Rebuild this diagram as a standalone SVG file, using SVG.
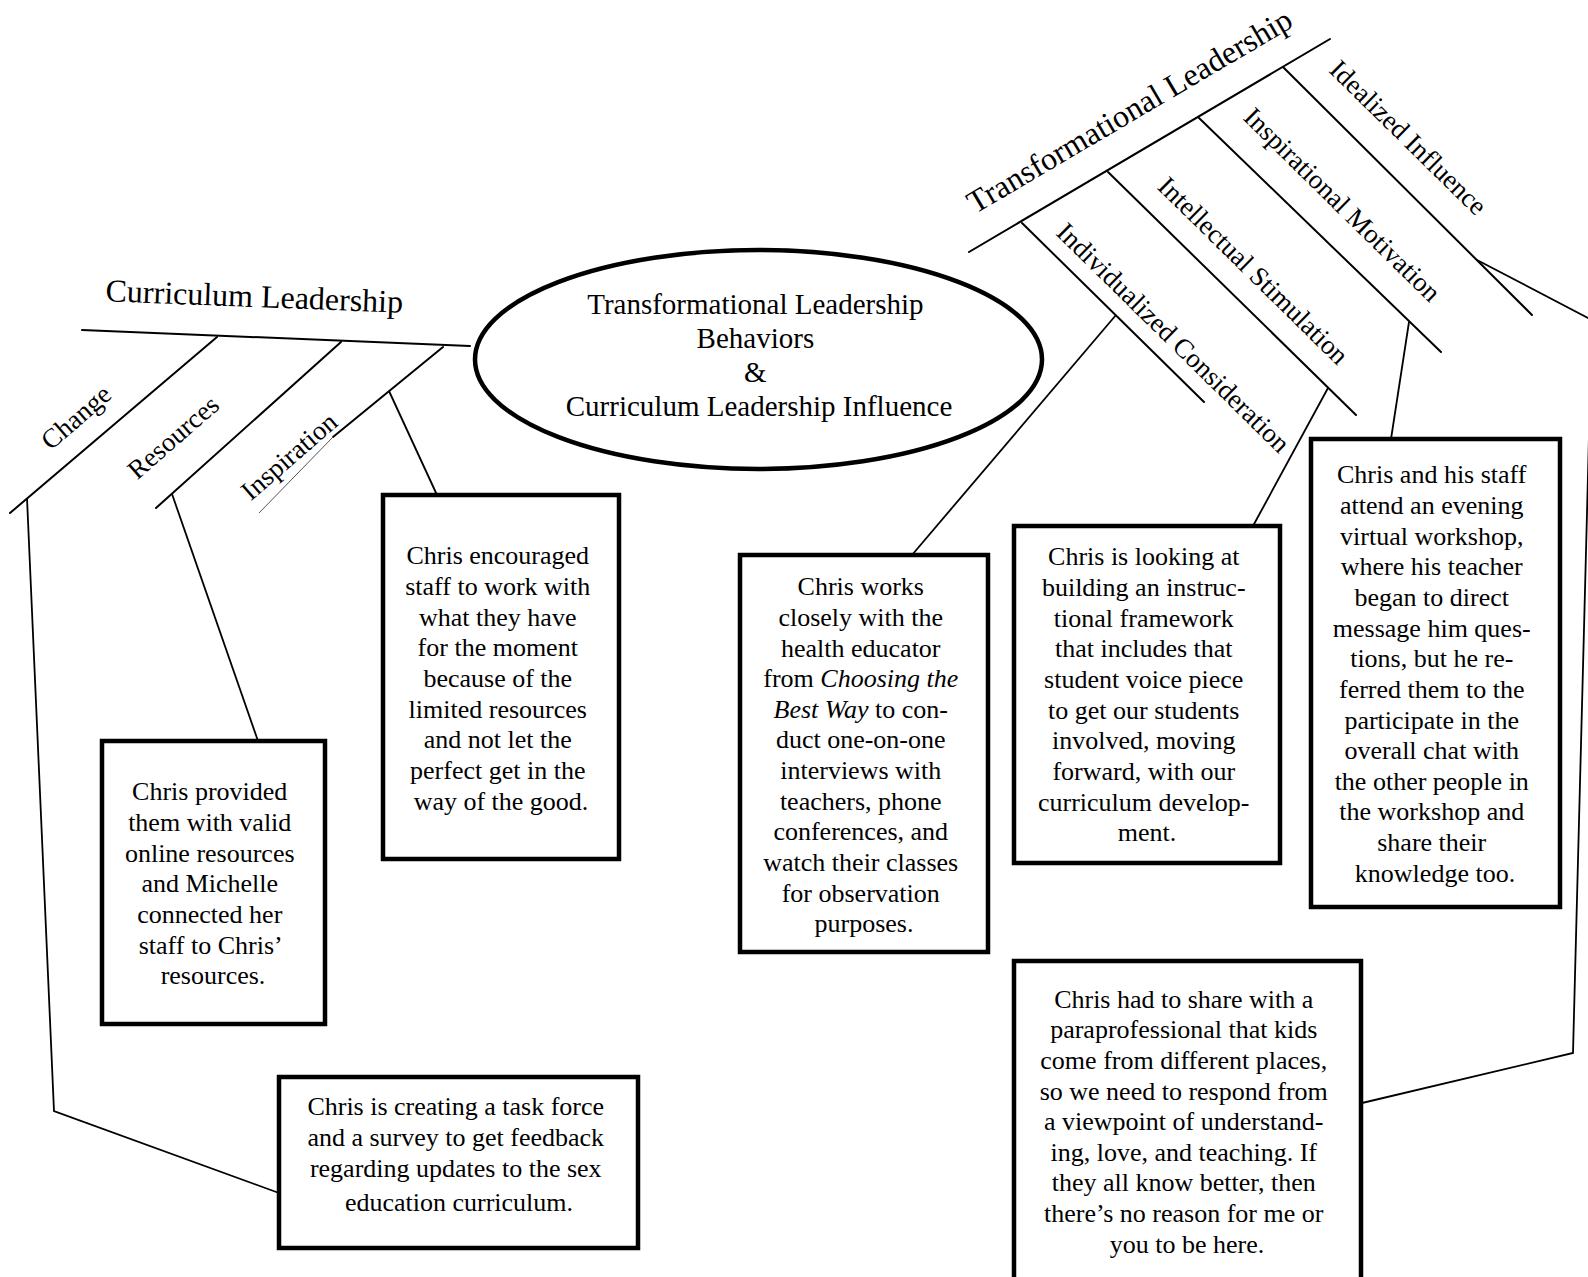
<svg xmlns="http://www.w3.org/2000/svg" width="1588" height="1277" viewBox="0 0 1588 1277">
<style>
text{font-family:"Liberation Serif","Times New Roman",serif;fill:#000}
.box{fill:#fff;stroke:#000;stroke-width:4.5}
.bt{font-size:26px;text-anchor:middle}
.lbl{font-size:27px;text-anchor:middle}
.br{stroke:#000;stroke-width:2;fill:none;stroke-linecap:round}
.cn{stroke:#000;stroke-width:1.8;fill:none}
</style>
<rect width="1588" height="1277" fill="#fff"/>
<g id="connectors">
  <!-- Curriculum leadership spine and branches -->
  <line class="br" x1="82" y1="330" x2="470" y2="346"/>
  <line class="br" x1="217" y1="337" x2="10" y2="513"/>
  <line class="br" x1="341" y1="342" x2="156" y2="508"/>
  <line class="br" x1="443" y1="347" x2="333" y2="437"/>
  <line x1="333" y1="437" x2="259" y2="513" stroke="#555" stroke-width="1"/>
  <!-- Transformational leadership spine and branches -->
  <line class="br" x1="969" y1="252" x2="1330" y2="39"/>
  <line class="br" x1="1022" y1="223" x2="1204" y2="402"/>
  <line class="br" x1="1108" y1="172" x2="1356" y2="415"/>
  <line class="br" x1="1199" y1="118" x2="1441" y2="352"/>
  <line class="br" x1="1283" y1="67" x2="1532" y2="315"/>
  <!-- leaders to boxes -->
  <polyline class="cn" points="389,391 437,495"/>
  <polyline class="cn" points="172,494 258,741"/>
  <polyline class="cn" points="27,498 54,1111 279,1193"/>
  <polyline class="cn" points="1116,315 912,555"/>
  <polyline class="cn" points="1328,388 1253,526"/>
  <polyline class="cn" points="1409,322 1391,439"/>
  <polyline class="cn" points="1477,260 1592,320 1573,1053 1362,1103"/>
</g>
<g id="labels">
  <text x="254" y="307" font-size="32" text-anchor="middle" transform="rotate(2.2 254 307)">Curriculum Leadership</text>
  <text class="lbl" x="82" y="424" transform="rotate(-41 82 424)">Change</text>
  <text class="lbl" x="179" y="444" transform="rotate(-41 179 444)">Resources</text>
  <text class="lbl" x="295" y="463" transform="rotate(-41 295 463)">Inspiration</text>
  <text x="1135" y="120" font-size="32" text-anchor="middle" transform="rotate(-30.5 1135 120)">Transformational Leadership</text>
  <text class="lbl" x="1167" y="344" transform="rotate(44.5 1167 344)">Individualized Consideration</text>
  <text class="lbl" x="1247" y="277" transform="rotate(44.5 1247 277)">Intellectual Stimulation</text>
  <text class="lbl" x="1336" y="211" transform="rotate(44.5 1336 211)">Inspirational Motivation</text>
  <text class="lbl" x="1402" y="144" transform="rotate(44.5 1402 144)">Idealized Influence</text>
</g>
<g id="center">
  <ellipse cx="758.5" cy="359.5" rx="283.5" ry="109.5" fill="#fff" stroke="#000" stroke-width="4.5"/>
  <text font-size="29" text-anchor="middle">
    <tspan x="759" y="314">Transformational Leadership</tspan>
    <tspan x="759" y="348">Behaviors</tspan>
    <tspan x="759" y="382">&amp;</tspan>
    <tspan x="759" y="416">Curriculum Leadership Influence</tspan>
  </text>
</g>
<g id="box-inspiration">
  <rect class="box" x="383" y="495" width="236" height="364"/>
  <text class="bt">
    <tspan x="501" y="564">Chris encouraged</tspan>
    <tspan x="501" y="595">staff to work with</tspan>
    <tspan x="501" y="626">what they have</tspan>
    <tspan x="501" y="656">for the moment</tspan>
    <tspan x="501" y="687">because of the</tspan>
    <tspan x="501" y="718">limited resources</tspan>
    <tspan x="501" y="748">and not let the</tspan>
    <tspan x="501" y="779">perfect get in the</tspan>
    <tspan x="501" y="810">way of the good.</tspan>
  </text>
</g>
<g id="box-resources">
  <rect class="box" x="102" y="741" width="223" height="283"/>
  <text class="bt">
    <tspan x="213" y="800">Chris provided</tspan>
    <tspan x="213" y="831">them with valid</tspan>
    <tspan x="213" y="862">online resources</tspan>
    <tspan x="213" y="892">and Michelle</tspan>
    <tspan x="213" y="923">connected her</tspan>
    <tspan x="213" y="954">staff to Chris’</tspan>
    <tspan x="213" y="984">resources.</tspan>
  </text>
</g>
<g id="box-change">
  <rect class="box" x="279" y="1077" width="359" height="171"/>
  <text class="bt">
    <tspan x="459" y="1115">Chris is creating a task force</tspan>
    <tspan x="459" y="1146">and a survey to get feedback</tspan>
    <tspan x="459" y="1177">regarding updates to the sex</tspan>
    <tspan x="459" y="1211">education curriculum.</tspan>
  </text>
</g>
<g id="box-individualized">
  <rect class="box" x="740" y="555" width="248" height="397"/>
  <text class="bt">
    <tspan x="864" y="595">Chris works</tspan>
    <tspan x="864" y="626">closely with the</tspan>
    <tspan x="864" y="657">health educator</tspan>
    <tspan x="864" y="687">from <tspan font-style="italic">Choosing the</tspan></tspan>
    <tspan x="864" y="718"><tspan font-style="italic">Best Way</tspan> to con-</tspan>
    <tspan x="864" y="748">duct one-on-one</tspan>
    <tspan x="864" y="779">interviews with</tspan>
    <tspan x="864" y="810">teachers, phone</tspan>
    <tspan x="864" y="840">conferences, and</tspan>
    <tspan x="864" y="871">watch their classes</tspan>
    <tspan x="864" y="902">for observation</tspan>
    <tspan x="864" y="932">purposes.</tspan>
  </text>
</g>
<g id="box-intellectual">
  <rect class="box" x="1014" y="526" width="266" height="337"/>
  <text class="bt">
    <tspan x="1147" y="565">Chris is looking at</tspan>
    <tspan x="1147" y="596">building an instruc-</tspan>
    <tspan x="1147" y="627">tional framework</tspan>
    <tspan x="1147" y="657">that includes that</tspan>
    <tspan x="1147" y="688">student voice piece</tspan>
    <tspan x="1147" y="719">to get our students</tspan>
    <tspan x="1147" y="749">involved, moving</tspan>
    <tspan x="1147" y="780">forward, with our</tspan>
    <tspan x="1147" y="811">curriculum develop-</tspan>
    <tspan x="1147" y="841">ment.</tspan>
  </text>
</g>
<g id="box-motivation">
  <rect class="box" x="1311" y="439" width="249" height="468"/>
  <text class="bt">
    <tspan x="1435" y="483">Chris and his staff</tspan>
    <tspan x="1435" y="514">attend an evening</tspan>
    <tspan x="1435" y="545">virtual workshop,</tspan>
    <tspan x="1435" y="575">where his teacher</tspan>
    <tspan x="1435" y="606">began to direct</tspan>
    <tspan x="1435" y="637">message him ques-</tspan>
    <tspan x="1435" y="667">tions, but he re-</tspan>
    <tspan x="1435" y="698">ferred them to the</tspan>
    <tspan x="1435" y="729">participate in the</tspan>
    <tspan x="1435" y="759">overall chat with</tspan>
    <tspan x="1435" y="790">the other people in</tspan>
    <tspan x="1435" y="820">the workshop and</tspan>
    <tspan x="1435" y="851">share their</tspan>
    <tspan x="1435" y="882">knowledge too.</tspan>
  </text>
</g>
<g id="box-idealized">
  <rect class="box" x="1014" y="961" width="347" height="340"/>
  <text class="bt">
    <tspan x="1187" y="1008">Chris had to share with a</tspan>
    <tspan x="1187" y="1038">paraprofessional that kids</tspan>
    <tspan x="1187" y="1069">come from different places,</tspan>
    <tspan x="1187" y="1100">so we need to respond from</tspan>
    <tspan x="1187" y="1130">a viewpoint of understand-</tspan>
    <tspan x="1187" y="1161">ing, love, and teaching. If</tspan>
    <tspan x="1187" y="1191">they all know better, then</tspan>
    <tspan x="1187" y="1222">there’s no reason for me or</tspan>
    <tspan x="1187" y="1253">you to be here.</tspan>
  </text>
</g>
</svg>
